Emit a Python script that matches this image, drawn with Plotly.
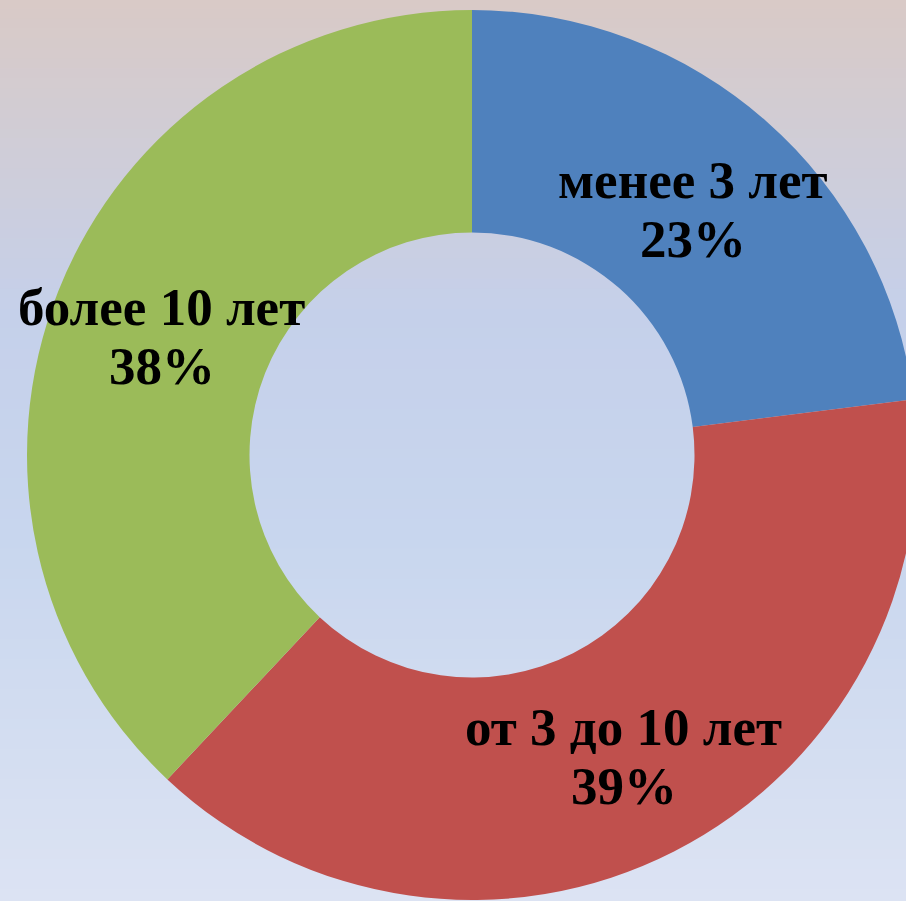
import math
import plotly.graph_objects as go

labels = ["менее 3 лет", "от 3 до 10 лет", "более 10 лет"]
values = [23, 39, 38]
colors = ["#4F81BD", "#C0504D", "#9BBB59"]

W, H = 925, 901
CX, CY, R = 472, 446, 445  # pie centre (px from left / bottom) and outer radius
HOLE = 0.5
FONT = dict(family="Liberation Serif", size=53, color="black", weight="bold")

fig = go.Figure(go.Pie(
    labels=labels,
    values=values,
    hole=HOLE,
    sort=False,
    direction="clockwise",
    rotation=0,
    marker=dict(colors=colors, line=dict(width=0)),
    textinfo="none",
    domain=dict(x=[(CX - R) / W, (CX + R) / W], y=[(CY - R) / H, (CY + R) / H]),
    showlegend=False,
    hoverinfo="label+percent",
))

# labels placed at the middle of each ring segment (derived from the values)
total = sum(values)
annotations = []
cum = 0
for lab, v in zip(labels, values):
    mid = (cum + v / 2) / total * 2 * math.pi
    cum += v
    rm = R * (1 + HOLE) / 2
    ax = (CX + rm * math.sin(mid)) / W
    ay = (CY + rm * math.cos(mid)) / H
    pct = "%d%%" % round(v / total * 100)
    annotations.append(dict(x=ax, y=ay, xref="paper", yref="paper", text=lab, showarrow=False,
                            font=FONT, xanchor="center", yanchor="middle", yshift=25))
    annotations.append(dict(x=ax, y=ay, xref="paper", yref="paper", text=pct, showarrow=False,
                            font=FONT, xanchor="center", yanchor="middle", yshift=-34))

# background vertical gradient (top beige-pink -> light blue)
stops = [(0.0, (217, 202, 198)), (0.35, (197, 208, 234)), (0.6, (200, 214, 238)), (1.0, (220, 227, 243))]
def col(t):
    for (t0, c0), (t1, c1) in zip(stops[:-1], stops[1:]):
        if t0 <= t <= t1:
            f = (t - t0) / (t1 - t0)
            return "rgb(%d,%d,%d)" % tuple(round(a + (b - a) * f) for a, b in zip(c0, c1))
    return "rgb(%d,%d,%d)" % stops[-1][1]

n = 90
shapes = []
for i in range(n):
    y0 = 1 - i / n
    y1 = 1 - (i + 1) / n
    shapes.append(dict(type="rect", xref="paper", yref="paper", x0=0, x1=1, y0=y1, y1=y0 + 0.002,
                       fillcolor=col((i + 0.5) / n), line=dict(width=0), layer="below"))

fig.update_layout(
    width=W, height=H,
    margin=dict(l=0, r=0, t=0, b=0),
    paper_bgcolor="rgb(205,212,235)",
    shapes=shapes,
    annotations=annotations,
)

fig.write_html("out.html", config={"displayModeBar": False},
               post_script="document.body.style.margin='0';document.body.style.overflow='hidden';document.documentElement.style.overflow='hidden';")
